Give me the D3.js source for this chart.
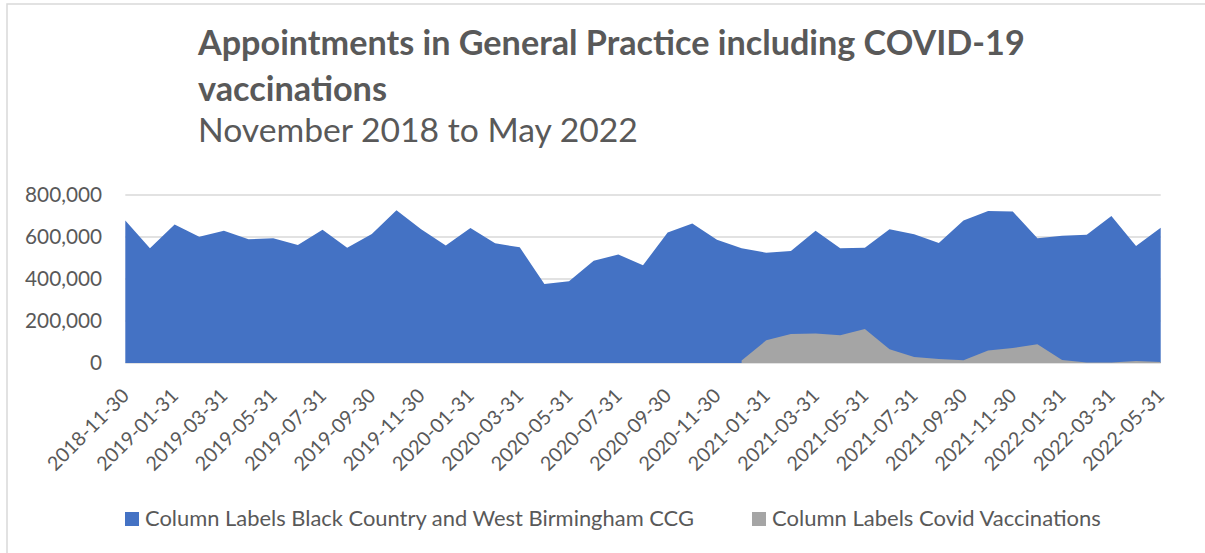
<!DOCTYPE html>
<html>
<head>
<meta charset="utf-8">
<script src="https://cdn.jsdelivr.net/npm/d3@7"></script>
<style>
  body { margin: 0; background: #fff; }
  svg text { font-family: Lato, "Open Sans", sans-serif; fill: #595959; }
</style>
</head>
<body>
<svg id="chart" width="1205" height="553"></svg>
<script>
// month-end dates, Nov 2018 .. May 2022
const months = ["2018-11-30","2018-12-31",
  "2019-01-31","2019-02-28","2019-03-31","2019-04-30","2019-05-31","2019-06-30","2019-07-31","2019-08-31","2019-09-30","2019-10-31","2019-11-30","2019-12-31",
  "2020-01-31","2020-02-29","2020-03-31","2020-04-30","2020-05-31","2020-06-30","2020-07-31","2020-08-31","2020-09-30","2020-10-31","2020-11-30","2020-12-31",
  "2021-01-31","2021-02-28","2021-03-31","2021-04-30","2021-05-31","2021-06-30","2021-07-31","2021-08-31","2021-09-30","2021-10-31","2021-11-30","2021-12-31",
  "2022-01-31","2022-02-28","2022-03-31","2022-04-30","2022-05-31"];

const appointments = [678000, 546000,
  659000, 601000, 630000, 589000, 594000, 562000, 635000, 549000, 614000, 727000, 637000, 560000,
  643000, 570000, 551000, 376000, 389000, 487000, 517000, 465000, 622000, 664000, 587000, 546000,
  525000, 533000, 630000, 546000, 549000, 637000, 613000, 571000, 678000, 724000, 721000, 594000,
  606000, 611000, 700000, 557000, 644000];

const vaccinations = [null, null,
  null, null, null, null, null, null, null, null, null, null, null, null,
  null, null, null, null, null, null, null, null, null, null, null, 12000,
  108000, 138000, 141000, 132000, 162000, 65000, 29000, 19000, 13000, 59000, 71000, 89000,
  14000, 2000, 2000, 10000, 5000];

const yTicks = [0, 200000, 400000, 600000, 800000];
const seriesNames = ["Column Labels Black Country and West Birmingham CCG", "Column Labels Covid Vaccinations"];
const colors = ["#4472C4", "#A5A5A5"];

const svg = d3.select("#chart");

// fit a text element's font size so that it spans a given width
const fit = (sel, w) => {
  const fs = parseFloat(sel.style("font-size"));
  const len = sel.node().getComputedTextLength();
  sel.style("font-size", (fs * w / len) + "px");
  return sel;
};

svg.append("rect")
  .attr("x", 7).attr("y", 4)
  .attr("width", 1220).attr("height", 570)
  .attr("fill", "#fff")
  .attr("stroke", "#d9d9d9")
  .attr("stroke-width", 1.5);

// titles
fit(svg.append("text").attr("x", 198).attr("y", 55)
  .style("font-size", "32px").style("font-weight", 700)
  .text("Appointments in General Practice including COVID-19"), 827);
fit(svg.append("text").attr("x", 198).attr("y", 101)
  .style("font-size", "32px").style("font-weight", 700)
  .text("vaccinations"), 189);
fit(svg.append("text").attr("x", 198).attr("y", 142)
  .style("font-size", "32px")
  .text("November 2018 to May 2022"), 440);

const x = d3.scalePoint().domain(months).range([125.3, 1160.7]);
const y = d3.scaleLinear().domain([0, 800000]).range([363, 195]);

// gridlines
svg.append("g").selectAll("line")
  .data(yTicks)
  .enter().append("line")
  .attr("x1", x.range()[0]).attr("x2", x.range()[1])
  .attr("y1", d => y(d)).attr("y2", d => y(d))
  .attr("stroke", "#d9d9d9")
  .attr("stroke-width", 1.5);

const rows = months.map((m, i) => ({m, a: appointments[i], v: vaccinations[i]}));

svg.append("path")
  .datum(rows)
  .attr("fill", colors[0])
  .attr("d", d3.area().x(d => x(d.m)).y0(y(0)).y1(d => y(d.a)));

svg.append("path")
  .datum(rows)
  .attr("fill", colors[1])
  .attr("d", d3.area().defined(d => d.v != null).x(d => x(d.m)).y0(y(0)).y1(d => y(d.v)));

// y axis labels
const fmt = d3.format(",");
const yLab = svg.append("g").selectAll("text")
  .data(yTicks)
  .enter().append("text")
  .attr("x", 102)
  .attr("y", d => y(d))
  .attr("dy", "0.36em")
  .attr("text-anchor", "end")
  .style("font-size", "22px")
  .text(d => fmt(d));
fit(yLab.filter(d => d === 800000), 77);
yLab.style("font-size", yLab.filter(d => d === 800000).style("font-size"));

// x axis labels, every second month
const xLab = svg.append("g").selectAll("text")
  .data(months.filter((d, i) => i % 2 === 0))
  .enter().append("text")
  .attr("text-anchor", "end")
  .attr("transform", d => `translate(${x(d) + 5},397) rotate(-45)`)
  .style("font-size", "20px")
  .text(d => d);
fit(xLab.filter((d, i) => i === 0), 106);
xLab.style("font-size", xLab.filter((d, i) => i === 0).style("font-size"));

// legend
const legendX = [125, 752];
const legendW = [549, 329];
seriesNames.forEach((name, i) => {
  svg.append("rect")
    .attr("x", legendX[i]).attr("y", 512)
    .attr("width", 14).attr("height", 14)
    .attr("fill", colors[i]);
  fit(svg.append("text")
    .attr("x", legendX[i] + 20).attr("y", 526)
    .style("font-size", "22px")
    .text(name), legendW[i]);
});
</script>
</body>
</html>
